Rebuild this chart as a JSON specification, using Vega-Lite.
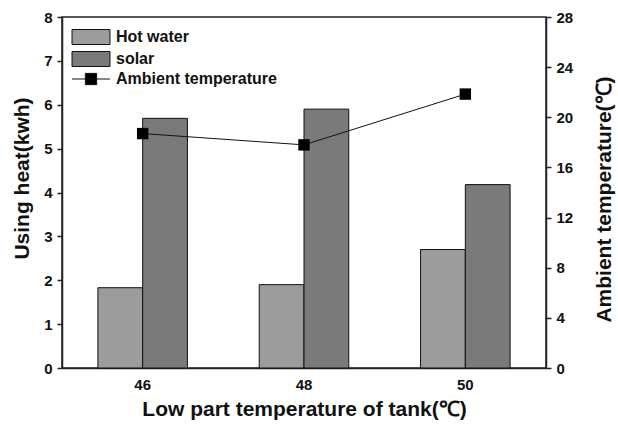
{
  "$schema": "https://vega.github.io/schema/vega-lite/v6.json",
  "width": 484,
  "height": 351,
  "autosize": "none",
  "padding": {"left": 62, "top": 17, "right": 72, "bottom": 57},
  "background": "white",
  "config": {
    "font": "Liberation Sans",
    "view": {"stroke": "#222222", "strokeWidth": 1.5},
    "axis": {
      "domainColor": "#222222",
      "domainWidth": 1.5,
      "tickColor": "#222222",
      "tickWidth": 1.5,
      "tickSize": 5,
      "grid": false,
      "labelColor": "#111111",
      "labelFont": "Liberation Sans",
      "labelFontWeight": "bold",
      "labelFontSize": 15,
      "titleColor": "#111111",
      "titleFont": "Liberation Sans",
      "titleFontWeight": "bold",
      "titleFontSize": 21
    }
  },
  "datasets": {
    "heat": [
      {"temp": "46", "series": "Hot water", "heat": 1.83},
      {"temp": "46", "series": "solar", "heat": 5.69},
      {"temp": "48", "series": "Hot water", "heat": 1.9},
      {"temp": "48", "series": "solar", "heat": 5.9},
      {"temp": "50", "series": "Hot water", "heat": 2.7},
      {"temp": "50", "series": "solar", "heat": 4.18}
    ],
    "ambient": [
      {"temp": "46", "ambient": 18.7},
      {"temp": "48", "ambient": 17.8},
      {"temp": "50", "ambient": 21.85}
    ]
  },
  "layer": [
    {
      "data": {"name": "heat"},
      "mark": {"type": "bar", "stroke": "#111111", "strokeWidth": 1},
      "encoding": {
        "x": {
          "field": "temp",
          "type": "nominal",
          "scale": {"paddingInner": 0.445, "paddingOuter": 0.2225},
          "axis": {
            "title": "Low part temperature of tank(℃)",
            "labelAngle": 0,
            "ticks": false,
            "labelPadding": 9,
            "titlePadding": 6
          }
        },
        "xOffset": {"field": "series", "sort": ["Hot water", "solar"]},
        "y": {
          "field": "heat",
          "type": "quantitative",
          "scale": {"domain": [0, 8]},
          "axis": {
            "title": "Using heat(kwh)",
            "values": [0, 1, 2, 3, 4, 5, 6, 7, 8],
            "labelPadding": 5,
            "titleAngle": 270,
            "titleX": -40,
            "titleY": 161,
            "titleAlign": "center",
            "titleBaseline": "middle"
          }
        },
        "fill": {
          "field": "series",
          "type": "nominal",
          "scale": {
            "domain": ["Hot water", "solar", "Ambient temperature"],
            "range": ["#9c9c9c", "#7a7a7a", "#000000"]
          },
          "legend": {
            "title": null,
            "orient": "none",
            "legendX": 21,
            "legendY": 12,
            "padding": 0,
            "symbolSize": 225,
            "symbolStrokeColor": "#111111",
            "symbolStrokeWidth": 1,
            "labelFont": "Liberation Sans",
            "labelFontWeight": "bold",
            "labelFontSize": 16,
            "labelColor": "#111111",
            "labelOffset": 17,
            "labelLimit": 400,
            "rowPadding": 2,
            "encode": {
              "symbols": {
                "update": {
                  "shape": {"signal": "datum.value === 'Ambient temperature' ? 'M-2.53,0H2.53M-0.75,-0.75H0.75V0.75H-0.75Z' : 'M-2.53,-1H2.53V1H-2.53Z'"},
                  "stroke": {"value": "#111111"},
                  "strokeWidth": {"value": 1}
                }
              }
            }
          }
        }
      }
    },
    {
      "data": {"name": "ambient"},
      "encoding": {
        "x": {"field": "temp", "type": "nominal"},
        "y": {
          "field": "ambient",
          "type": "quantitative",
          "scale": {"domain": [0, 28]},
          "axis": {
            "orient": "right",
            "title": "Ambient temperature(℃)",
            "values": [0, 4, 8, 12, 16, 20, 24, 28],
            "labelPadding": 5,
            "titleAngle": 270,
            "titleX": 58,
            "titleY": 182,
            "titleAlign": "center",
            "titleBaseline": "middle"
          }
        }
      },
      "layer": [
        {"mark": {"type": "line", "color": "#111111", "strokeWidth": 1}},
        {"mark": {"type": "square", "size": 130, "color": "#000000", "filled": true, "opacity": 1}}
      ]
    }
  ],
  "resolve": {"scale": {"y": "independent"}}
}
